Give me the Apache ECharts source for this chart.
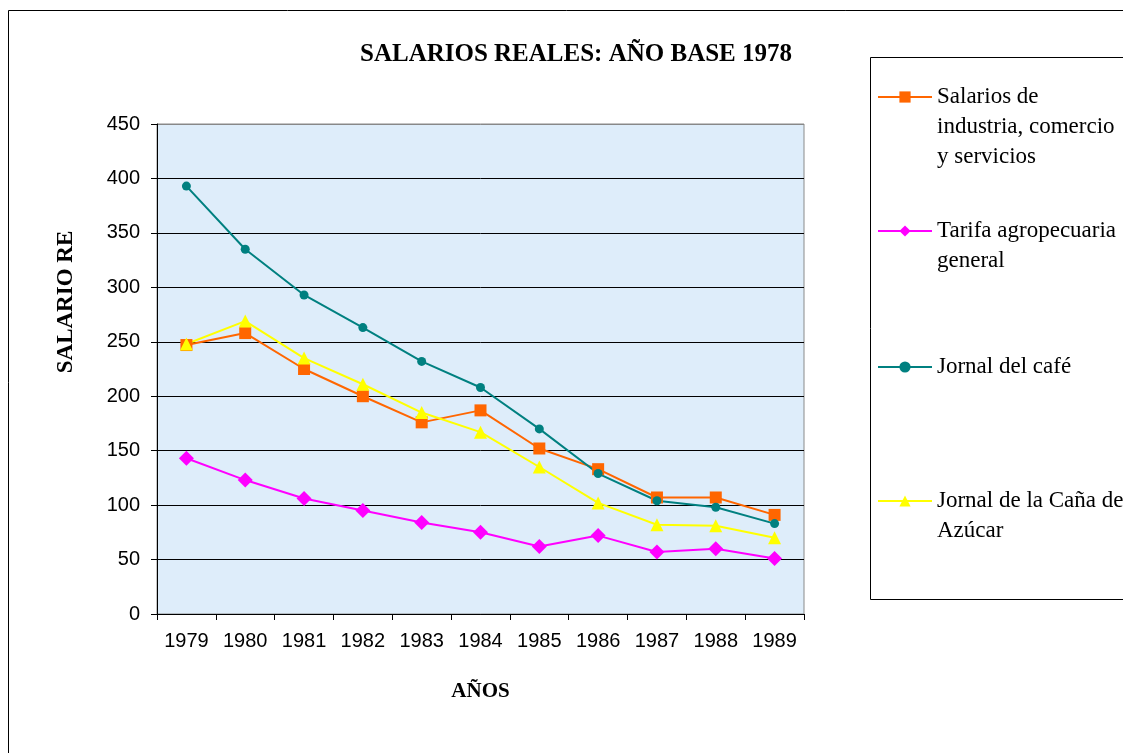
<!DOCTYPE html>
<html>
<head>
<meta charset="utf-8">
<script src="https://cdn.jsdelivr.net/npm/echarts@6/dist/echarts.min.js"></script>
<style>
  html, body { margin: 0; padding: 0; background: #fff; }
  #main { width: 1123px; height: 753px; }
</style>
</head>
<body>
<div id="main"></div>
<script>
// datos
const years = ['1979', '1980', '1981', '1982', '1983', '1984', '1985', '1986', '1987', '1988', '1989'];
const salariosIndustria = [247, 258, 225, 200, 176, 187, 152, 133, 107, 107, 91];
const tarifaAgro = [143, 123, 106, 95, 84, 75, 62, 72, 57, 60, 51];
const jornalCafe = [393, 335, 293, 263, 232, 208, 170, 129, 104, 98, 83];
const jornalCana = [248, 269, 235, 211, 185, 167, 135, 102, 82, 81, 70];
const yTicks = [0, 50, 100, 150, 200, 250, 300, 350, 400, 450];

const seriesNames = [
  'Salarios de industria, comercio y servicios',
  'Tarifa agropecuaria general',
  'Jornal del café',
  'Jornal de la Caña de Azúcar'
];
const legendLines = [
  ['Salarios de', 'industria, comercio', 'y servicios'],
  ['Tarifa agropecuaria', 'general'],
  ['Jornal del café'],
  ['Jornal de la Caña de', 'Azúcar']
];
const legendFirstLineY = [97, 231, 367, 501];

const chart = echarts.init(document.getElementById('main'));

const serif = 'Liberation Serif';
const sans = 'Liberation Sans';
const LH = 30;
const legendFont = 23;

// una leyenda por serie: icono + primera linea; el resto va como texto aparte
const legends = seriesNames.map(function (name, i) {
  return {
    data: [name],
    left: 877,
    top: legendFirstLineY[i] - LH / 2,
    padding: 0,
    itemWidth: 54,
    itemHeight: 14,
    selectedMode: false,
    formatter: function () { return legendLines[i][0]; },
    textStyle: { fontFamily: serif, fontSize: legendFont, color: '#000', lineHeight: LH }
  };
});

const extraLines = [];
legendLines.forEach(function (lines, i) {
  lines.slice(1).forEach(function (txt, k) {
    extraLines.push({
      type: 'text', silent: true,
      x: 937, y: legendFirstLineY[i] + (k + 1) * LH,
      style: {
        text: txt, fontFamily: serif, fontSize: legendFont, fill: '#000',
        verticalAlign: 'middle', align: 'left'
      }
    });
  });
});

const splitColors = yTicks.map(function (v) { return v === 450 ? '#888' : '#000'; });

const option = {
  animation: false,
  backgroundColor: '#fff',
  title: {
    text: 'SALARIOS REALES: AÑO BASE 1978',
    left: 355,
    top: 37,
    textStyle: { fontFamily: serif, fontWeight: 'bold', fontSize: 25, color: '#000' }
  },
  legend: legends,
  grid: {
    left: 157, top: 124, right: 319, bottom: 139,
    show: true,
    backgroundColor: '#deedfa',
    borderColor: '#8a8a8a',
    borderWidth: 1
  },
  xAxis: {
    type: 'category',
    data: years,
    name: 'AÑOS',
    nameLocation: 'middle',
    nameGap: 67,
    nameTextStyle: { fontFamily: serif, fontWeight: 'bold', fontSize: 21, color: '#000' },
    axisLine: { lineStyle: { color: '#000', width: 1 } },
    axisTick: { show: true, length: 6, lineStyle: { color: '#000' } },
    axisLabel: { fontFamily: sans, fontSize: 20, color: '#000', margin: 17 },
    splitLine: { show: false }
  },
  yAxis: {
    type: 'value',
    min: 0,
    max: 450,
    interval: 50,
    name: 'SALARIO REAL',
    nameLocation: 'middle',
    nameRotate: 90,
    nameGap: 79,
    nameTruncate: { maxWidth: 150, ellipsis: '' },
    nameTextStyle: {
      fontFamily: serif, fontWeight: 'bold', fontSize: 23, color: '#000',
      padding: [0, 0, 0, 134]
    },
    axisLine: { show: true, lineStyle: { color: '#000', width: 1 } },
    axisTick: { show: true, length: 6, lineStyle: { color: '#000' } },
    axisLabel: { fontFamily: sans, fontSize: 20, color: '#000', margin: 17 },
    splitLine: { show: true, lineStyle: { color: splitColors, width: 1 } }
  },
  graphic: [
    {
      type: 'rect', silent: true, z: -1,
      shape: { x: 8.5, y: 10.5, width: 1200, height: 800 },
      style: { fill: 'none', stroke: '#000', lineWidth: 1 }
    },
    {
      type: 'rect', silent: true, z: -1,
      shape: { x: 870.5, y: 57.5, width: 300, height: 542 },
      style: { fill: 'none', stroke: '#000', lineWidth: 1 }
    }
  ].concat(extraLines),
  series: [
    {
      name: seriesNames[0], type: 'line', data: salariosIndustria,
      symbol: 'rect', symbolSize: 12,
      itemStyle: { color: '#ff6600' },
      lineStyle: { color: '#ff6600', width: 2 }
    },
    {
      name: seriesNames[1], type: 'line', data: tarifaAgro,
      symbol: 'diamond', symbolSize: 15,
      itemStyle: { color: '#ff00ff' },
      lineStyle: { color: '#ff00ff', width: 2 }
    },
    {
      name: seriesNames[2], type: 'line', data: jornalCafe,
      symbol: 'circle', symbolSize: 9,
      itemStyle: { color: '#008080' },
      lineStyle: { color: '#008080', width: 2 }
    },
    {
      name: seriesNames[3], type: 'line', data: jornalCana,
      symbol: 'triangle', symbolSize: 13,
      itemStyle: { color: '#ffff00' },
      lineStyle: { color: '#ffff00', width: 2 }
    }
  ]
};

chart.setOption(option);
</script>
</body>
</html>
